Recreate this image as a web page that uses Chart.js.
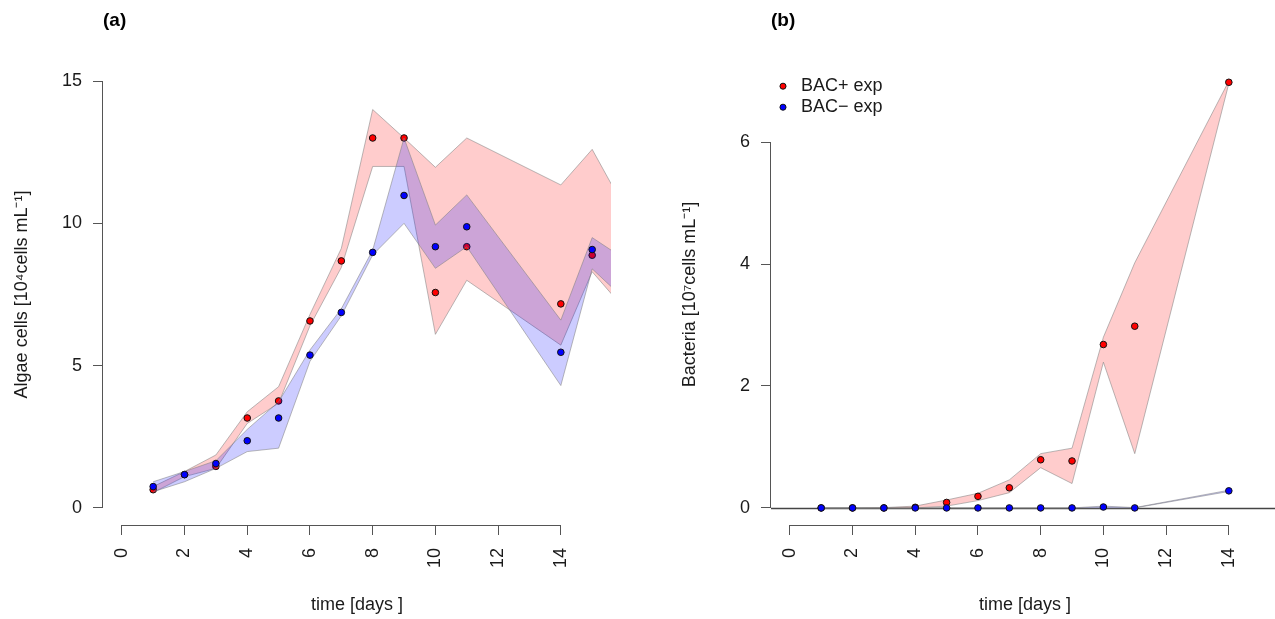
<!DOCTYPE html>
<html>
<head>
<meta charset="utf-8">
<script src="https://cdn.jsdelivr.net/npm/chart.js@4.4.0/dist/chart.umd.min.js"></script>
<style>
  html, body { margin: 0; padding: 0; background: #fff; overflow: hidden; width: 1275px; height: 619px; }
  canvas { position: absolute; top: 0; }
  #algaeChart { left: 0; }
  #bacteriaChart { left: 668px; }
</style>
</head>
<body>
<canvas id="algaeChart" width="637" height="619"></canvas>
<canvas id="bacteriaChart" width="637" height="619"></canvas>
<script>
// ---- panel (a): algae cells, 10^4 cells/mL ----
const daysA = [1, 2, 3, 4, 5, 6, 7, 8, 9, 10, 11, 14, 15];
const algaePlus  = [0.64, 1.17, 1.46, 3.16, 3.76, 6.57, 8.68, 13.0, 13.0, 7.57, 9.18, 7.17, 8.88];
const algaeMinus = [0.75, 1.17, 1.56, 2.36, 3.16, 5.37, 6.87, 8.98, 10.98, 9.18, 9.88, 5.47, 9.08];
// envelopes go one day past the axis end and get clipped by the plot region
const bandDaysA    = [1, 2, 3, 4, 5, 6, 7, 8, 9, 10, 11, 14, 15, 16];
const algaePlusHi  = [0.75, 1.28, 1.86, 3.38, 4.26, 6.8, 9.12, 14.0, 13.0, 11.97, 13.0, 11.35, 12.6, 10.6];
const algaePlusLo  = [0.54, 1.1, 1.39, 2.97, 3.68, 6.4, 8.45, 12.0, 12.0, 6.1, 8.0, 5.72, 8.3, 7.03];
const algaeMinusHi = [0.92, 1.28, 1.66, 2.76, 3.73, 5.55, 7.0, 9.06, 13.0, 9.94, 11.0, 6.6, 9.5, 8.77];
const algaeMinusLo = [0.57, 0.92, 1.39, 1.98, 2.1, 5.15, 6.75, 8.89, 10.0, 8.42, 9.18, 4.3, 8.4, 7.37];

// ---- panel (b): bacteria, 10^7 cells/mL ----
const daysB = [1, 2, 3, 4, 5, 6, 7, 8, 9, 10, 11, 14];
const bactPlus    = [0, 0, 0, 0.01, 0.09, 0.19, 0.33, 0.79, 0.77, 2.68, 2.98, 6.98];
const bactMinus   = [0, 0, 0, 0, 0, 0, 0, 0, 0, 0.015, 0, 0.28];
const bactPlusHi  = [0, 0, 0.005, 0.03, 0.13, 0.24, 0.46, 0.89, 0.98, 2.8, 4.02, 7.0];
const bactPlusLo  = [0, 0, 0, 0, 0.03, 0.12, 0.25, 0.66, 0.40, 2.39, 0.89, 6.96];
const bactMinusHi = [0, 0, 0, 0, 0, 0, 0, 0, 0, 0.03, 0.005, 0.29];
const bactMinusLo = [0, 0, 0, 0, 0, 0, 0, 0, 0, 0, 0, 0.27];

const xTicks  = [0, 2, 4, 6, 8, 10, 12, 14];
const yTicksA = [0, 5, 10, 15];
const yTicksB = [0, 2, 4, 6];

const FONT = "'Liberation Sans', Arial, Helvetica, sans-serif";
const TEXT = '#1a1a1a';
const AXIS_COLOR = '#555';
const BAND_EDGE = 'rgba(130,130,130,0.55)';

const toXY = (xs, ys) => xs.map((x, i) => ({ x: x, y: ys[i] }));

// R-like axes: axis line only between first and last tick, optional h=0 line
const rStyleAxes = {
    id: 'rStyleAxes',
    beforeDatasetsDraw(chart, args, opts) {
        if (!opts.zeroLine) return;
        const { ctx, chartArea, scales: { y } } = chart;
        const py = Math.round(y.getPixelForValue(0)) + 0.5;
        ctx.save();
        ctx.strokeStyle = '#444';
        ctx.lineWidth = 1.4;
        ctx.beginPath();
        ctx.moveTo(chartArea.left, py);
        ctx.lineTo(chartArea.right, py);
        ctx.stroke();
        ctx.restore();
    },
    afterDraw(chart, args, opts) {
        const { ctx, scales: { x, y } } = chart;
        const xt = opts.xTicks, yt = opts.yTicks;
        const ax = Math.round(y.right) - 0.5;
        const ay = Math.round(x.top) + 0.5;
        ctx.save();
        ctx.strokeStyle = AXIS_COLOR;
        ctx.lineWidth = 1;
        ctx.beginPath();
        ctx.moveTo(ax, y.getPixelForValue(yt[0]));
        ctx.lineTo(ax, y.getPixelForValue(yt[yt.length - 1]));
        ctx.moveTo(x.getPixelForValue(xt[0]), ay);
        ctx.lineTo(x.getPixelForValue(xt[xt.length - 1]), ay);
        ctx.stroke();
        ctx.restore();
    }
};

function bandSets(xs, hi, lo, fillColor, order) {
    return [
        { label: '', data: toXY(xs, hi), fill: '+1', backgroundColor: fillColor, borderColor: BAND_EDGE,
          borderWidth: 1, pointRadius: 0, tension: 0, order: order + 1 },
        { label: '', data: toXY(xs, lo), fill: false, borderColor: BAND_EDGE,
          borderWidth: 1, pointRadius: 0, tension: 0, order: order }
    ];
}

function pointSet(label, xs, ys, color, order) {
    return {
        label: label, data: toXY(xs, ys), showLine: false, pointStyle: 'circle',
        pointRadius: 3.3, pointBorderWidth: 1, pointBackgroundColor: color, pointBorderColor: '#111',
        backgroundColor: color, borderColor: '#111', order: order
    };
}

function xScale() {
    return {
        type: 'linear', min: -0.6, max: 15.6,
        afterBuildTicks: s => { s.ticks = xTicks.map(v => ({ value: v })); },
        afterFit: s => { s.height = 94; },
        grid: { drawOnChartArea: false, drawTicks: true, tickLength: 10, color: AXIS_COLOR, lineWidth: 1 },
        border: { display: false },
        ticks: { autoSkip: false, minRotation: 90, maxRotation: 90, padding: 13, color: TEXT,
                 font: { size: 18, family: FONT } },
        title: { display: true, text: 'time [days ]', color: TEXT, font: { size: 18, family: FONT },
                 padding: { top: 0, bottom: 3 } }
    };
}

function yScale(min, max, ticks, title) {
    return {
        type: 'linear', min: min, max: max,
        afterBuildTicks: s => { s.ticks = ticks.map(v => ({ value: v })); },
        afterFit: s => { s.width = 103; },
        grid: { drawOnChartArea: false, drawTicks: true, tickLength: 10, color: AXIS_COLOR, lineWidth: 1 },
        border: { display: false },
        ticks: { padding: 11, color: TEXT, font: { size: 18, family: FONT } },
        title: { display: true, text: title, color: TEXT, font: { size: 18, family: FONT },
                 padding: { top: 11, bottom: 0 } }
    };
}

function baseOptions(panelTitle, yMin, yMax, yTicks, yTitle, legend, zeroLine) {
    return {
        responsive: false,
        animation: false,
        events: [],
        layout: { padding: { left: 0, right: 26, top: 0, bottom: 0 } },
        plugins: {
            title: { display: true, text: panelTitle, align: 'start', fullSize: false, color: '#000',
                     font: { size: 19, weight: 'bold', family: FONT }, padding: { top: 9, bottom: 32.2 } },
            legend: legend,
            tooltip: { enabled: false },
            filler: { drawTime: 'beforeDatasetDraw' },
            rStyleAxes: { xTicks: xTicks, yTicks: yTicks, zeroLine: zeroLine }
        },
        scales: { x: xScale(), y: yScale(yMin, yMax, yTicks, yTitle) }
    };
}

// (a) Algae
new Chart(document.getElementById('algaeChart'), {
    type: 'line',
    data: {
        datasets: [
            ...bandSets(bandDaysA, algaePlusHi, algaePlusLo, 'rgba(255,0,0,0.2)', 5),
            pointSet('BAC+ exp', daysA, algaePlus, '#ff0000', 4),
            ...bandSets(bandDaysA, algaeMinusHi, algaeMinusLo, 'rgba(0,0,255,0.2)', 2),
            pointSet('BAC\u2212 exp', daysA, algaeMinus, '#0000ff', 1)
        ]
    },
    options: baseOptions('(a)', -0.6, 15.6, yTicksA, 'Algae cells [10\u2074cells mL\u207B\u00B9]',
                         { display: false }, false),
    plugins: [rStyleAxes]
});

// (b) Bacteria
// the legend box sits at the canvas top here, so the empty legend title pushes the rows down
new Chart(document.getElementById('bacteriaChart'), {
    type: 'line',
    data: {
        datasets: [
            ...bandSets(daysB, bactPlusHi, bactPlusLo, 'rgba(255,0,0,0.2)', 5),
            pointSet('BAC+ exp', daysB, bactPlus, '#ff0000', 4),
            ...bandSets(daysB, bactMinusHi, bactMinusLo, 'rgba(0,0,255,0.2)', 2),
            pointSet('BAC\u2212 exp', daysB, bactMinus, '#0000ff', 1)
        ]
    },
    options: baseOptions('(b)', -0.28, 7.28, yTicksB, 'Bacteria [10\u2077cells mL\u207B\u00B9]', {
        display: true, position: 'chartArea', align: 'start',
        title: { display: true, text: '', font: { size: 1 }, padding: { top: 73, bottom: 0 } },
        labels: {
            usePointStyle: true, boxWidth: 24, boxHeight: 4.3, padding: 3, color: TEXT,
            font: { size: 18, family: FONT },
            filter: item => item.text !== '',
            sort: (a, b) => a.datasetIndex - b.datasetIndex
        }
    }, true),
    plugins: [rStyleAxes]
});
</script>
</body>
</html>
